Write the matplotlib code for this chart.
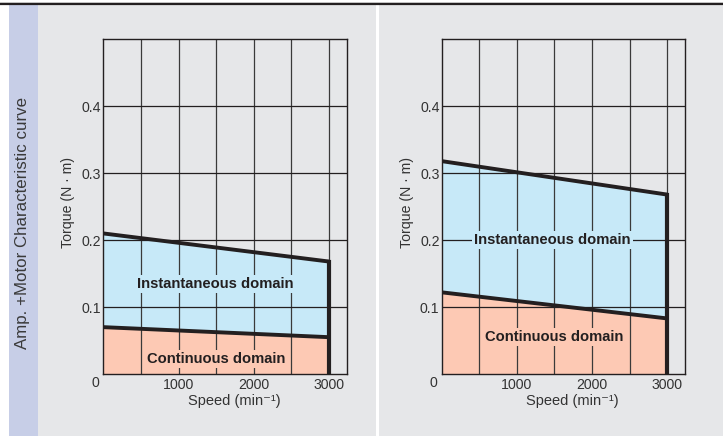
import matplotlib
matplotlib.use("Agg")
import matplotlib.pyplot as plt
from matplotlib.patches import Rectangle
from matplotlib.lines import Line2D

plt.rcParams['font.family'] = ['Liberation Sans', 'DejaVu Sans']

# ---- data ----
speed = [0, 3000]
left_instant = [0.21, 0.168]
left_cont = [0.07, 0.055]
right_instant = [0.318, 0.268]
right_cont = [0.122, 0.083]
xticks = [1000, 2000, 3000]
xtick_labels = ["1000", "2000", "3000"]
yticks = [0.1, 0.2, 0.3, 0.4]
ytick_labels = ["0.1", "0.2", "0.3", "0.4"]
strip_title = "Amp. +Motor Characteristic curve"
ylabel = "Torque (N \u00b7 m)"
xlabel = "Speed (min\u207b\u00b9)"

W, H = 723, 436
fig = plt.figure(figsize=(W / 100, H / 100), dpi=100)
fig.patch.set_facecolor("white")

BG = "#e6e7e9"
STRIP = "#c7cee7"
BLUE = "#c7e9f8"
SALMON = "#fdc9b4"
INK = "#231f20"
TXT = "#333333"


def px_rect(x0, y0, x1, y1, color):
    fig.patches.append(Rectangle((x0 / W, 1 - y1 / H), (x1 - x0) / W, (y1 - y0) / H,
                                 transform=fig.transFigure, facecolor=color,
                                 edgecolor="none", zorder=-5))


px_rect(9, 5, 38, H, STRIP)
px_rect(38, 5, 376, H, BG)
px_rect(379, 5, W, H, BG)
# top border line
fig.lines.append(Line2D([0, 1], [1 - 4 / H, 1 - 4 / H], transform=fig.transFigure,
                        color=INK, lw=1.6, zorder=-4))
fig.lines.append(Line2D([0, 1], [1 - 2.5 / H, 1 - 2.5 / H], transform=fig.transFigure,
                        color="#bbbbbb", lw=0.6, zorder=-4))

fig.text(23 / W, 1 - 223 / H, strip_title, rotation=90, ha="center", va="center",
         fontsize=12.2, color="#3a3a3a")


def make_panel(x0px, x1px, inst, cont, inst_pos, cont_pos, ylab_x, xlab_x):
    top, bot = 39.3, 374.0
    ax = fig.add_axes([x0px / W, 1 - bot / H, (x1px - x0px) / W, (bot - top) / H])
    ax.set_facecolor(BG)
    ax.set_xlim(0, 3236)
    ax.set_ylim(0, 0.5)
    ax.fill_between(speed, 0, cont, color=SALMON, lw=0, zorder=1)
    ax.fill_between(speed, cont, inst, color=BLUE, lw=0, zorder=1)
    for v in range(500, 3001, 500):
        ax.axvline(v, color="#3a3a3a", lw=0.9, zorder=2)
    for v in yticks:
        ax.axhline(v, color=INK, lw=0.9, zorder=2)
    ax.plot(speed, inst, color=INK, lw=2.8, zorder=4, solid_capstyle="butt")
    ax.plot(speed, cont, color=INK, lw=2.8, zorder=4, solid_capstyle="butt")
    ax.plot([3000, 3000], [0, inst[1]], color=INK, lw=3.0, zorder=4,
            solid_capstyle="projecting")
    ax.text(inst_pos[0], inst_pos[1], "Instantaneous domain", ha="center", va="center",
            fontsize=10.6, fontweight="bold", color=INK, zorder=5,
            bbox=dict(facecolor=BLUE, edgecolor="none", pad=1.5))
    ax.text(cont_pos[0], cont_pos[1], "Continuous domain", ha="center", va="center",
            fontsize=10.6, fontweight="bold", color=INK, zorder=5,
            bbox=dict(facecolor=SALMON, edgecolor="none", pad=1.5))
    ax.set_xticks(xticks)
    ax.set_xticklabels(xtick_labels)
    ax.set_yticks(yticks)
    ax.set_yticklabels(ytick_labels)
    ax.tick_params(length=0, labelsize=10.2, labelcolor=TXT, pad=3)
    ax.tick_params(axis="y", pad=1.5)
    for s in ax.spines.values():
        s.set_color(INK)
        s.set_linewidth(1.0)
        s.set_zorder(6)
    ax.annotate("0", xy=(0, 0), xycoords="axes fraction", xytext=(-8, -9),
                textcoords="offset pixels", ha="center", va="center",
                fontsize=10.2, color=TXT)
    fig.text(ylab_x / W, 1 - 202 / H, ylabel, rotation=90, ha="center", va="center",
             fontsize=10.2, color=TXT)
    fig.text(xlab_x / W, 1 - 401 / H, xlabel, ha="center", va="center",
             fontsize=10.5, color=TXT)
    return ax


make_panel(103.3, 346.7, left_instant, left_cont, (1490, 0.134), (1500, 0.023), 68, 234)
make_panel(441.7, 685.0, right_instant, right_cont, (1470, 0.2), (1490, 0.055), 407, 572)

fig.savefig("out.png", dpi=100, facecolor=fig.get_facecolor())
